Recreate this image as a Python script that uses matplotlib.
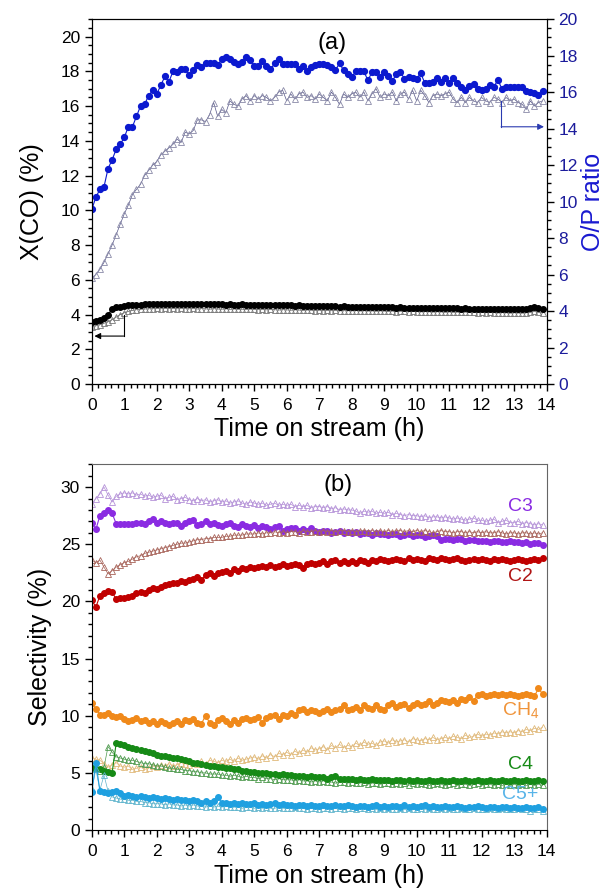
import numpy as np
import matplotlib
matplotlib.use('Agg')
import matplotlib.pyplot as plt
from matplotlib.ticker import MultipleLocator

plt.rcParams['font.family'] = ['Liberation Sans', 'DejaVu Sans']
plt.rcParams['mathtext.default'] = 'regular'

# ── Data (sampling every 7.5 min) ─────────────────────────────────────────────

time_h = np.arange(0, 14, 0.125)

# (a) O/P ratio, right axis
op_filled = [
    9.57, 10.24, 10.67, 10.81, 11.81, 12.29, 12.86, 13.14, 13.52, 14.10,
    14.10, 14.67, 15.24, 15.33, 15.81, 16.10, 15.90, 16.38, 16.86, 16.57,
    17.14, 17.10, 17.29, 17.24, 16.95, 17.19, 17.48, 17.38, 17.57, 17.62,
    17.62, 17.48, 17.81, 17.90, 17.81, 17.67, 17.52, 17.67, 17.90, 17.76,
    17.43, 17.43, 17.71, 17.43, 17.24, 17.57, 17.81, 17.52, 17.52, 17.52,
    17.52, 17.29, 17.43, 17.14, 17.38, 17.48,
    17.52, 17.55, 17.50, 17.37, 17.19, 17.59, 17.19, 16.97, 16.82, 17.14,
    17.14, 17.14, 16.64, 17.10, 17.10, 16.82, 17.10, 16.91, 16.60, 17.00,
    17.10, 16.73, 16.82, 16.76, 16.73, 17.04, 16.50, 16.52, 16.58, 16.78,
    16.56, 16.78, 16.50, 16.78, 16.50, 16.28, 16.10, 16.36, 16.42, 16.18,
    16.10, 16.18, 16.40, 16.28, 16.67, 16.18, 16.28, 16.28, 16.28, 16.28,
    16.28, 16.04, 16.00, 15.94, 15.82, 16.04,
]
op_open = [
    5.81, 6.00, 6.29, 6.67, 7.14, 7.62, 8.19, 8.76, 9.33, 9.81,
    10.38, 10.67, 10.95, 11.43, 11.71, 12.00, 12.19, 12.57, 12.76, 12.95,
    13.14, 13.43, 13.24, 13.81, 13.71, 13.90, 14.48, 14.48, 14.38, 14.76,
    15.43, 14.67, 15.05, 14.86, 15.52, 15.33, 15.24, 15.62, 15.81, 15.52,
    15.81, 15.62, 15.81, 15.71, 15.52, 15.71, 16.00, 16.10, 15.52, 15.90,
    15.62, 15.90, 16.00, 15.71, 15.81, 15.62, 15.90, 15.71, 15.52, 16.00,
    15.71, 15.33, 15.90, 15.71, 15.90, 16.00, 15.71, 16.00, 15.52, 15.90,
    16.19, 15.71, 15.90, 15.81, 16.00, 15.52, 15.90, 16.00, 15.62, 16.10,
    15.52, 16.10, 15.81, 15.43, 15.81, 15.90, 15.81, 15.90, 16.00, 15.62,
    15.43, 15.71, 15.43, 15.71, 15.52, 15.43, 15.71, 15.52, 15.43, 15.71,
    15.62, 15.43, 15.71, 15.52, 15.62, 15.43, 15.33, 15.05, 15.52, 15.24,
    15.43, 15.52,
]

# (a) X(CO), left axis
xco_filled = [
    3.55, 3.62, 3.70, 3.82, 3.98, 4.32, 4.42, 4.46,
    4.50, 4.52, 4.55, 4.56, 4.57, 4.58, 4.59, 4.60,
    4.61, 4.60, 4.62, 4.61, 4.60, 4.61, 4.62, 4.60,
    4.60, 4.61, 4.59, 4.60, 4.60, 4.58, 4.59, 4.60,
    4.58, 4.57, 4.58, 4.56, 4.57, 4.58, 4.56, 4.55,
    4.56, 4.55, 4.54, 4.55, 4.53, 4.54, 4.55, 4.52,
    4.53, 4.52, 4.51, 4.52, 4.50, 4.51, 4.50, 4.49,
    4.50, 4.48, 4.49, 4.47, 4.48, 4.46, 4.47, 4.46,
    4.45, 4.46, 4.44, 4.45, 4.43, 4.44, 4.42, 4.43,
    4.42, 4.41, 4.42, 4.40, 4.41, 4.39, 4.40, 4.40,
    4.39, 4.38, 4.39, 4.37, 4.38, 4.36, 4.37, 4.36,
    4.36, 4.35, 4.36, 4.34, 4.35, 4.34, 4.33, 4.34,
    4.33, 4.34, 4.32, 4.33, 4.31, 4.32, 4.31, 4.32,
    4.31, 4.30, 4.31, 4.32, 4.36, 4.45, 4.38, 4.32,
]
xco_open = [
    3.30, 3.35, 3.42, 3.50, 3.58, 3.70, 3.85, 4.00,
    4.10, 4.18, 4.24, 4.28, 4.30, 4.32, 4.33, 4.34,
    4.35, 4.33, 4.36, 4.34, 4.35, 4.33, 4.36, 4.34,
    4.33, 4.35, 4.32, 4.34, 4.33, 4.31, 4.34, 4.32,
    4.31, 4.33, 4.30, 4.32, 4.30, 4.31, 4.29, 4.31,
    4.30, 4.28, 4.30, 4.27, 4.29, 4.28, 4.26, 4.28,
    4.27, 4.25, 4.27, 4.26, 4.24, 4.26, 4.25, 4.23,
    4.25, 4.23, 4.24, 4.22, 4.24, 4.21, 4.23, 4.22,
    4.21, 4.23, 4.20, 4.22, 4.20, 4.21, 4.19, 4.21,
    4.20, 4.18, 4.20, 4.17, 4.19, 4.18, 4.16, 4.18,
    4.17, 4.15, 4.17, 4.16, 4.14, 4.16, 4.15, 4.13,
    4.15, 4.13, 4.14, 4.12, 4.14, 4.12, 4.13, 4.11,
    4.12, 4.10, 4.12, 4.11, 4.09, 4.11, 4.10, 4.08,
    4.10, 4.09, 4.08, 4.10, 4.12, 4.18, 4.12, 4.10,
]

# (b) selectivities (%)
c3_filled = [
    26.9, 26.3, 27.5, 27.7, 28.0, 27.7, 26.8, 26.8,
    26.8, 26.8, 26.8, 26.9, 26.9, 26.8, 27.0, 27.2,
    26.9, 27.0, 26.9, 26.8, 26.9, 26.9, 26.6, 26.9,
    27.0, 27.1, 26.7, 26.8, 27.0, 26.8, 26.9, 26.7,
    26.6, 26.8, 26.9, 26.6, 26.5, 26.8, 26.6, 26.5,
    26.7, 26.4, 26.6, 26.5, 26.3, 26.5, 26.6, 26.2,
    26.3, 26.4, 26.4, 26.2, 26.3, 26.2, 26.4, 26.2,
    26.1, 26.2, 26.2, 26.0, 26.1, 26.2, 26.0, 26.1,
    26.0, 26.1, 25.9, 26.0, 26.0, 25.8, 26.0, 25.9,
    25.9, 25.8, 25.9, 25.9, 25.7, 25.8, 25.9, 25.7,
    25.8, 25.8, 25.6, 25.7, 25.8, 25.7, 25.4, 25.5,
    25.5, 25.4, 25.5, 25.5, 25.3, 25.4, 25.4, 25.3,
    25.3, 25.3, 25.2, 25.3, 25.3, 25.2, 25.2, 25.3,
    25.2, 25.2, 25.1, 25.2, 25.0, 25.1, 25.1, 24.9,
]
c3_open = [
    28.5, 29.0, 29.4, 30.0, 29.3, 28.7, 29.2, 29.4,
    29.5, 29.4, 29.5, 29.3, 29.4, 29.2, 29.3, 29.1,
    29.2, 29.3, 29.0, 29.1, 29.2, 28.9, 29.0, 29.1,
    28.9, 28.8, 29.0, 28.8, 28.9, 28.7, 28.8, 28.9,
    28.7, 28.8, 28.6, 28.7, 28.8, 28.6, 28.5, 28.7,
    28.6, 28.5, 28.6, 28.4, 28.5, 28.6, 28.4, 28.5,
    28.4, 28.5, 28.3, 28.4, 28.3, 28.4, 28.2, 28.3,
    28.3, 28.2, 28.3, 28.1, 28.2, 28.0, 28.1, 28.0,
    28.0, 27.9, 27.7, 27.9, 27.8, 27.9, 27.7, 27.8,
    27.7, 27.8, 27.6, 27.7, 27.6, 27.5, 27.6, 27.5,
    27.5, 27.4, 27.5, 27.3, 27.4, 27.4, 27.3, 27.4,
    27.3, 27.2, 27.3, 27.2, 27.1, 27.2, 27.3, 27.1,
    27.1, 27.0, 27.1, 27.2, 26.9, 27.0, 27.1, 26.9,
    26.9, 27.0, 26.8, 26.9, 26.8, 26.7, 26.8, 26.7,
]
c2_filled = [
    20.1, 19.5, 20.5, 20.7, 20.9, 20.8, 20.2, 20.3,
    20.3, 20.4, 20.5, 20.7, 20.8, 20.7, 21.0, 21.2,
    21.1, 21.3, 21.4, 21.5, 21.6, 21.6, 21.8, 21.7,
    21.9, 22.0, 22.1, 21.9, 22.3, 22.5, 22.2, 22.5,
    22.6, 22.7, 22.5, 22.8, 22.7, 22.9, 22.8, 23.0,
    22.9, 23.0, 23.1, 23.0, 23.2, 23.0, 23.1, 23.3,
    23.1, 23.2, 23.3, 23.2, 22.9, 23.3, 23.4, 23.3,
    23.4, 23.5, 23.3, 23.5, 23.6, 23.4, 23.5, 23.4,
    23.5, 23.4, 23.6, 23.5, 23.4, 23.6, 23.5, 23.7,
    23.6, 23.5, 23.6, 23.7, 23.6, 23.5, 23.8, 23.6,
    23.7, 23.6, 23.5, 23.8, 23.7, 23.6, 23.8, 23.7,
    23.6, 23.7, 23.8, 23.6, 23.5, 23.6, 23.7, 23.6,
    23.7, 23.6, 23.5, 23.7, 23.6, 23.7, 23.6, 23.5,
    23.6, 23.7, 23.6, 23.5, 23.6, 23.7, 23.6, 23.8,
]
c2_open = [
    23.6, 23.4, 23.6, 23.0, 22.4, 22.7, 23.0, 23.2,
    23.4, 23.5, 23.7, 23.9, 24.0, 24.2, 24.3, 24.4,
    24.5, 24.6, 24.7, 24.8, 24.9, 25.0, 25.1, 25.1,
    25.2, 25.3, 25.4, 25.4, 25.5, 25.5, 25.6, 25.6,
    25.6, 25.7, 25.7, 25.8, 25.8, 25.8, 25.9, 25.9,
    25.9, 26.0, 25.9, 26.0, 26.0, 26.1, 26.0, 26.1,
    26.0, 26.1, 26.1, 26.0, 26.2, 26.1, 26.1, 26.2,
    26.1, 26.2, 26.1, 26.2, 26.1, 26.2, 26.2, 26.1,
    26.2, 26.1, 26.2, 26.2, 26.1, 26.2, 26.1, 26.2,
    26.1, 26.2, 26.1, 26.2, 26.2, 26.1, 26.2, 26.1,
    26.2, 26.1, 26.2, 26.1, 26.0, 26.1, 26.2, 26.1,
    26.1, 26.0, 26.1, 26.1, 26.0, 26.1, 26.0, 26.1,
    26.0, 26.1, 26.0, 26.0, 26.1, 26.0, 25.9, 26.0,
    26.0, 25.9, 26.0, 26.0, 25.9, 26.0, 25.9, 26.0,
]
ch4_filled = [
    11.1, 10.6, 10.1, 10.1, 10.2, 10.0, 9.9, 10.0,
    9.7, 9.5, 9.6, 9.8, 9.5, 9.6, 9.4, 9.5,
    9.3, 9.5, 9.4, 9.2, 9.4, 9.5, 9.3, 9.6,
    9.5, 9.7, 9.4, 9.3, 10.0, 9.4, 9.2, 9.6,
    9.8, 9.5, 9.3, 9.6, 9.4, 9.7, 9.8, 9.6,
    9.7, 9.9, 9.4, 9.8, 10.0, 10.1, 9.7, 10.1,
    10.0, 10.2, 10.1, 10.5, 10.6, 10.3, 10.5, 10.4,
    10.2, 10.4, 10.6, 10.3, 10.5, 10.6, 10.9, 10.5,
    10.6, 10.8, 10.5, 10.9, 10.7, 10.6, 10.9, 10.6,
    10.5, 10.9, 11.1, 10.8, 10.9, 11.0, 10.7, 10.9,
    11.1, 10.9, 11.0, 11.3, 10.9, 11.1, 11.4, 11.3,
    11.2, 11.4, 11.1, 11.5, 11.4, 11.6, 11.3, 11.8,
    11.9, 11.7, 11.8, 11.9, 11.8, 11.9, 11.8, 11.9,
    11.8, 11.7, 11.8, 11.9, 11.8, 11.7, 12.4, 11.9,
]
ch4_open = [
    6.3, 6.2, 6.1, 5.8, 5.5, 5.7, 5.9, 5.6,
    5.5, 5.6, 5.3, 5.4, 5.5, 5.3, 5.4, 5.6,
    5.5, 5.7, 5.6, 5.8, 5.6, 5.7, 5.9, 5.8,
    5.7, 5.9, 5.8, 6.0, 5.8, 6.1, 6.0, 5.9,
    6.1, 6.0, 6.2, 6.0, 6.3, 6.1, 6.2, 6.3,
    6.4, 6.2, 6.5, 6.3, 6.6, 6.4, 6.7, 6.6,
    6.8, 6.6, 6.9, 6.7, 7.0, 6.8, 7.2, 7.0,
    7.1, 7.3, 7.0, 7.4, 7.2, 7.5, 7.2, 7.4,
    7.3, 7.6, 7.4, 7.7, 7.5, 7.6, 7.4, 7.7,
    7.8, 7.6, 7.9, 7.7, 7.8, 7.9, 7.7, 8.0,
    7.9, 7.8, 8.0, 7.9, 8.1, 7.9, 8.0, 8.1,
    8.0, 8.2, 8.1, 8.0, 8.3, 8.1, 8.2, 8.4,
    8.2, 8.4, 8.3, 8.5, 8.4, 8.6, 8.5, 8.6,
    8.5, 8.7, 8.6, 8.8, 8.7, 8.9, 8.8, 9.0,
]
c4_filled = [
    5.4, 5.3, 5.3, 5.2, 5.1, 5.0, 7.6, 7.5,
    7.4, 7.3, 7.2, 7.1, 7.0, 6.9, 6.8, 6.7,
    6.6, 6.5, 6.5, 6.4, 6.3, 6.3, 6.2, 6.1,
    6.0, 5.9, 5.9, 5.8, 5.7, 5.6, 5.6, 5.5,
    5.5, 5.4, 5.4, 5.3, 5.3, 5.2, 5.2, 5.1,
    5.1, 5.0, 5.0, 5.0, 4.9, 4.9, 4.8, 4.9,
    4.8, 4.8, 4.7, 4.7, 4.7, 4.6, 4.7, 4.6,
    4.6, 4.6, 4.5, 4.6, 4.7, 4.5, 4.5, 4.5,
    4.5, 4.4, 4.5, 4.4, 4.4, 4.5, 4.4, 4.4,
    4.4, 4.4, 4.3, 4.4, 4.4, 4.3, 4.4, 4.3,
    4.4, 4.3, 4.3, 4.4, 4.3, 4.3, 4.4, 4.3,
    4.3, 4.4, 4.3, 4.3, 4.4, 4.3, 4.3, 4.4,
    4.3, 4.3, 4.4, 4.3, 4.3, 4.4, 4.3, 4.3,
    4.4, 4.3, 4.3, 4.4, 4.3, 4.3, 4.4, 4.3,
]
c4_open = [
    5.5, 5.3, 5.2, 5.5, 7.3, 6.8, 6.4, 6.3,
    6.2, 6.1, 6.1, 6.0, 5.9, 5.8, 5.8, 5.7,
    5.6, 5.6, 5.5, 5.4, 5.4, 5.3, 5.3, 5.2,
    5.2, 5.1, 5.1, 5.0, 5.0, 4.9, 4.9, 4.9,
    4.8, 4.8, 4.7, 4.8, 4.7, 4.6, 4.7, 4.6,
    4.6, 4.5, 4.6, 4.5, 4.5, 4.4, 4.5, 4.4,
    4.4, 4.4, 4.3, 4.4, 4.3, 4.3, 4.2, 4.3,
    4.2, 4.3, 4.2, 4.2, 4.1, 4.2, 4.2, 4.1,
    4.2, 4.1, 4.1, 4.2, 4.0, 4.1, 4.1, 4.0,
    4.1, 4.1, 4.0, 4.1, 4.0, 4.1, 3.9, 4.1,
    4.0, 4.1, 4.0, 3.9, 4.0, 4.1, 4.0, 3.9,
    4.0, 4.1, 3.9, 4.0, 4.0, 3.9, 4.0, 4.1,
    3.9, 4.0, 4.0, 3.9, 4.0, 3.9, 4.0, 3.9,
    4.0, 3.9, 4.0, 3.9, 4.0, 3.9, 4.0, 3.9,
]
c5_filled = [
    3.3, 5.9, 3.4, 3.3, 3.2, 3.3, 3.4, 3.2,
    3.0, 3.1, 3.0, 2.9, 3.0, 2.9, 2.8, 2.9,
    2.8, 2.7, 2.8, 2.7, 2.6, 2.7, 2.6, 2.6,
    2.5, 2.6, 2.5, 2.4, 2.5, 2.4, 2.5, 2.9,
    2.4, 2.4, 2.3, 2.4, 2.3, 2.4, 2.3, 2.3,
    2.4, 2.2, 2.3, 2.2, 2.3, 2.4, 2.2, 2.3,
    2.2, 2.2, 2.1, 2.2, 2.2, 2.1, 2.2, 2.1,
    2.1, 2.2, 2.1, 2.1, 2.2, 2.1, 2.1, 2.2,
    2.1, 2.0, 2.1, 2.1, 2.0, 2.1, 2.2, 2.0,
    2.1, 2.0, 2.1, 2.1, 2.0, 2.2, 2.0, 2.1,
    2.0, 2.1, 2.2, 2.0, 2.1, 2.0, 2.0, 2.1,
    2.0, 2.0, 2.1, 2.0, 1.9, 2.0, 2.0, 2.1,
    2.0, 1.9, 2.0, 2.0, 1.9, 2.0, 2.0, 1.9,
    2.0, 1.9, 1.9, 2.0, 1.9, 1.9, 2.0, 1.8,
]
c5_open = [
    3.6, 5.3, 3.5, 4.8, 3.4, 2.9, 2.8, 2.7,
    2.7, 2.6, 2.6, 2.5, 2.5, 2.4, 2.4, 2.3,
    2.3, 2.3, 2.2, 2.3, 2.2, 2.2, 2.1, 2.2,
    2.1, 2.2, 2.1, 2.1, 2.0, 2.1, 2.0, 2.1,
    2.0, 2.1, 2.0, 2.0, 2.0, 1.9, 2.0, 2.0,
    1.9, 2.0, 1.9, 2.0, 1.9, 1.9, 2.0, 1.9,
    1.9, 1.9, 2.0, 1.9, 1.9, 1.8, 1.9, 1.9,
    1.8, 1.9, 1.9, 1.8, 1.9, 1.9, 1.8, 1.9,
    1.9, 1.8, 1.9, 1.9, 1.8, 1.9, 1.8, 1.9,
    1.8, 1.9, 1.8, 1.8, 1.9, 1.8, 1.9, 1.8,
    1.8, 1.9, 1.8, 1.9, 1.8, 1.8, 1.9, 1.8,
    1.9, 1.8, 1.8, 1.9, 1.8, 1.8, 1.9, 1.8,
    1.8, 1.8, 1.9, 1.8, 1.8, 1.9, 1.8, 1.8,
    1.8, 1.9, 1.8, 1.8, 1.7, 1.8, 1.8, 1.7,
]

# label, filled, open, marker colour, open edge colour, label colour, label y
selectivity_series = [
    ("C3", c3_filled, c3_open, '#8a2be2', '#b592d8', '#8a2be2', 28.3),
    ("C2", c2_filled, c2_open, '#c00000', '#a8645a', '#b01414', 22.2),
    ("CH$_4$", ch4_filled, ch4_open, '#f0891a', '#e0b97a', '#f0943a', 10.5),
    ("C4", c4_filled, c4_open, '#168a16', '#4e9a4e', '#168a16', 5.7),
    ("C5+", c5_filled, c5_open, '#1fa0e0', '#5fb4cc', '#58b4e8', 3.1),
]


def style_axis(ax, ymajor, yminor, xpad):
    ax.set_xlim(0, 14)
    ax.xaxis.set_major_locator(MultipleLocator(1))
    ax.xaxis.set_minor_locator(MultipleLocator(0.2))
    ax.yaxis.set_major_locator(MultipleLocator(ymajor))
    ax.yaxis.set_minor_locator(MultipleLocator(yminor))
    ax.tick_params(which='both', direction='out', labelsize=12.5,
                   top=False, right=False, width=1.0)
    ax.tick_params(which='major', length=5)
    ax.tick_params(which='minor', length=3)
    ax.tick_params(axis='x', pad=5)
    ax.set_xlabel("Time on stream (h)", fontsize=18, labelpad=xpad)


fig = plt.figure(figsize=(6.08, 8.90), dpi=100)

# ── (a) ───────────────────────────────────────────────────────────────────────
ax1 = fig.add_axes([0.151, 0.5685, 0.748, 0.410])
ax1.plot(time_h, xco_open, '^', ls='-', lw=0.5, color='#555555',
         mfc='none', mec='#777777', ms=4, mew=0.6)
ax1.plot(time_h, xco_filled, 'o', ls='-', lw=0.8, color='black', ms=4)
ax1.set_ylim(0, 21)
style_axis(ax1, 2, 0.5, 3)
ax1.set_ylabel("X(CO) (%)", fontsize=18, labelpad=12)
ax1.text(7.4, 19.6, "(a)", fontsize=17, ha='center', va='center')

ax1r = ax1.twinx()
ax1r.plot(time_h, op_open, '^', ls='-', lw=0.5, color='#555588',
          mfc='none', mec='#8a8aa8', ms=4, mew=0.6)
ax1r.plot(time_h, op_filled, 'o', ls='-', lw=0.8, color='#0b19cf', ms=4.2)
ax1r.set_ylim(0, 20)
ax1r.yaxis.set_major_locator(MultipleLocator(2))
ax1r.yaxis.set_minor_locator(MultipleLocator(0.5))
ax1r.tick_params(which='both', direction='out', labelsize=12.5,
                 labelcolor='#1c1c9c', width=1.0)
ax1r.tick_params(which='major', length=5)
ax1r.tick_params(which='minor', length=3)
ax1r.set_ylabel("O/P ratio", fontsize=18, color='#1a1ad0', labelpad=2)

# arrows pointing to the axes
ax1.plot([0.98, 0.98], [3.97, 2.76], color='black', lw=0.8)
ax1.annotate('', xy=(0.08, 2.76), xytext=(0.98, 2.76),
             arrowprops=dict(arrowstyle='-|>', color='black', lw=0.8,
                             mutation_scale=9, shrinkA=0, shrinkB=0))
ax1r.plot([12.6, 12.6], [15.5, 14.1], color='#2a3ab0', lw=0.8)
ax1r.annotate('', xy=(13.92, 14.1), xytext=(12.6, 14.1),
              arrowprops=dict(arrowstyle='-|>', color='#2a3ab0', lw=0.8,
                              mutation_scale=9, shrinkA=0, shrinkB=0))

# ── (b) ───────────────────────────────────────────────────────────────────────
ax2 = fig.add_axes([0.151, 0.0674, 0.748, 0.411])
for label, filled, opened, color, edge, lcolor, ylab in selectivity_series:
    ax2.plot(time_h, opened, '^', ls='-', lw=0.5, color=edge,
             mfc='none', mec=edge, ms=4, mew=0.6)
    ax2.plot(time_h, filled, 'o', ls='-', lw=0.8, color=color, ms=4)
    ax2.text(13.2, ylab, label, fontsize=14, color=lcolor,
             ha='center', va='center')
ax2.set_ylim(0, 32)
style_axis(ax2, 5, 1, 4)
ax2.set_ylabel("Selectivity (%)", fontsize=18, labelpad=6)
ax2.text(7.57, 30.2, "(b)", fontsize=17, ha='center', va='center')
for side in ['top', 'right']:
    ax2.spines[side].set_color('#666666')

plt.savefig("out.png", dpi=100)
